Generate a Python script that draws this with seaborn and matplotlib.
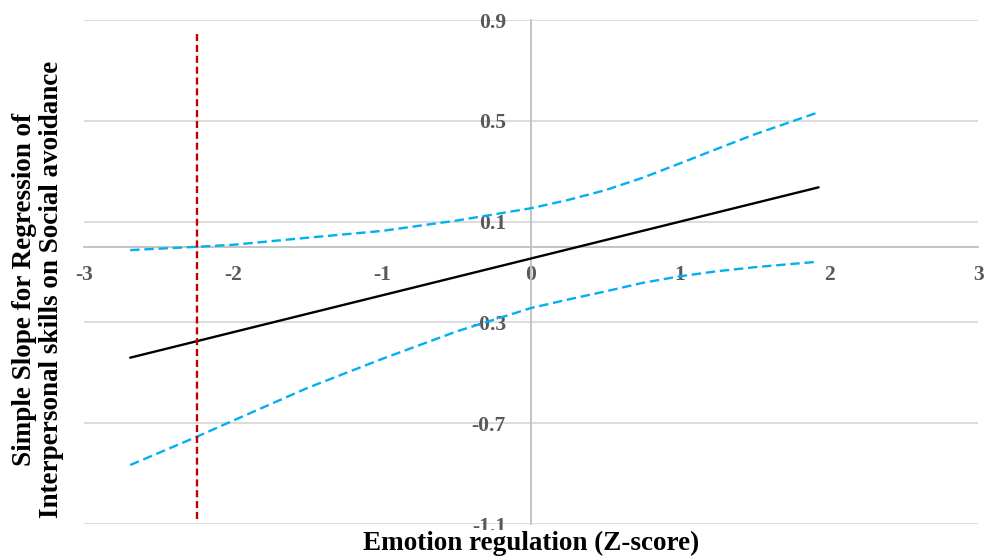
import matplotlib
matplotlib.use("Agg")
import matplotlib.pyplot as plt
import seaborn as sns
import pandas as pd

# emotion regulation (Z-score) at which the curves were read
z_score = [-2.69, -2.24, -2.0, -1.5, -1.0, -0.5, 0.0, 0.25, 0.5, 0.75, 1.0, 1.25, 1.5, 1.93]
# upper / lower confidence bands of the simple slope
upper_ci = [-0.013, 0.0, 0.008, 0.036, 0.063, 0.104, 0.153, 0.186, 0.225, 0.274, 0.331, 0.389, 0.446, 0.534]
lower_ci = [-0.866, -0.753, -0.69, -0.56, -0.445, -0.336, -0.243, -0.209, -0.177, -0.143, -0.117, -0.097, -0.081, -0.059]
# simple slope (straight line, two ends)
slope_x = [-2.69, 1.93]
slope_y = [-0.44, 0.236]
# region of significance boundary
jn_x = [-2.24, -2.24]
jn_y = [-1.08, 0.85]

x_ticks = [-3, -2, -1, 0, 1, 2, 3]
y_ticks = [-1.1, -0.7, -0.3, 0.1, 0.5, 0.9]

sns.set_theme(style="white")
plt.rcParams["font.family"] = ["Liberation Serif", "DejaVu Serif"]

band_df = pd.DataFrame({"z": z_score, "upper": upper_ci, "lower": lower_ci})
slope_df = pd.DataFrame({"z": slope_x, "slope": slope_y})
jn_df = pd.DataFrame({"z": jn_x, "y": jn_y})

fig = plt.figure(figsize=(9.86, 5.58), dpi=100)
ax = fig.add_axes([84 / 986, 1 - 524 / 558, 894 / 986, 504 / 558])

blue = "#00B0F0"
sns.lineplot(data=band_df, x="z", y="upper", ax=ax, color=blue, lw=1.7,
             linestyle=(0, (4, 2)), estimator=None)
sns.lineplot(data=band_df, x="z", y="lower", ax=ax, color=blue, lw=1.7,
             linestyle=(0, (4, 2)), estimator=None)
sns.lineplot(data=slope_df, x="z", y="slope", ax=ax, color="black", lw=1.7,
             estimator=None)
sns.lineplot(data=jn_df, x="z", y="y", ax=ax, color="#C00000", lw=1.7,
             linestyle=(0, (3, 1.6)), estimator=None, sort=False)

ax.set_xlim(-3, 3)
ax.set_ylim(-1.1, 0.9)
ax.set_xticks(x_ticks)
ax.set_yticks(y_ticks)
ax.set_xticklabels([str(t) for t in x_ticks])
ax.set_yticklabels([f"{t:.1f}" for t in y_ticks])

# axes cross at the origin, excel style
ax.spines["left"].set_position(("data", 0))
ax.spines["bottom"].set_position(("data", 0))
for s in ["top", "right"]:
    ax.spines[s].set_visible(False)
for s in ["left", "bottom"]:
    ax.spines[s].set_color("#BFBFBF")
    ax.spines[s].set_linewidth(1.3)
    ax.spines[s].set_zorder(1)

ax.yaxis.grid(True, color="#D9D9D9", lw=1.3)
ax.xaxis.grid(False)
ax.set_axisbelow(True)

ax.tick_params(axis="both", length=0, labelsize=15.5, labelcolor="#595959")
ax.tick_params(axis="x", pad=13)
ax.tick_params(axis="y", pad=18)
for lab in ax.get_xticklabels() + ax.get_yticklabels():
    lab.set_fontweight("bold")

ax.set_xlabel("")
ax.set_ylabel("")
# the title box sits over the lowest tick label, as in the excel original
fig.text(531 / 986, 1 - 543 / 558, "Emotion regulation (Z-score)", ha="center",
         va="center", fontsize=19.5, fontweight="bold", color="black",
         bbox=dict(facecolor="white", edgecolor="none", pad=0), zorder=5)
fig.text(38 / 986, 1 - 289 / 558,
         "Simple Slope for Regression of\nInterpersonal skills on Social avoidance",
         ha="center", va="center", rotation=90, multialignment="center",
         fontsize=19.5, fontweight="bold", color="black", linespacing=1.15)

fig.savefig("out.png", dpi=100)
plt.close(fig)
